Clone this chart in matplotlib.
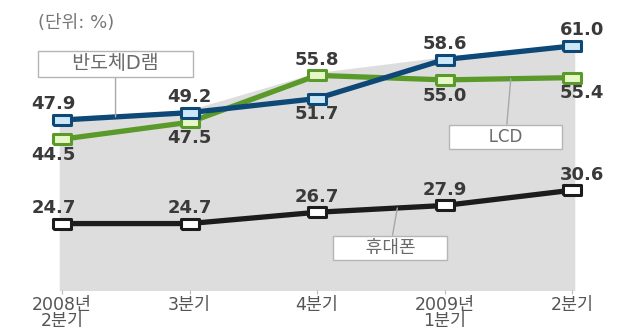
import numpy as np
import matplotlib.pyplot as plt

# 점유율 데이터 (단위: %)
quarters = ["2008년\n2분기", "3분기", "4분기", "2009년\n1분기", "2분기"]
dram = [47.9, 49.2, 51.7, 58.6, 61.0]
lcd = [44.5, 47.5, 55.8, 55.0, 55.4]
phone = [24.7, 24.7, 26.7, 27.9, 30.6]

plt.rcParams['font.family'] = ['DejaVu Sans', 'Noto Sans CJK KR']

x = np.arange(len(quarters))


# the original squeezes the empty band between ~32 and ~42
def fwd(v):
    v = np.asarray(v, dtype=float)
    return np.where(v >= 42, v, np.where(v >= 32, 42 - (42 - v) * 0.513, v + 4.87))


def inv(t):
    t = np.asarray(t, dtype=float)
    return np.where(t >= 42, t, np.where(t >= 36.87, 42 - (42 - t) / 0.513, t - 4.87))


W, H = 619, 331
fig = plt.figure(figsize=(W / 100, H / 100), dpi=100)
ax = fig.add_axes([23.75 / W, 41 / H, 586.5 / W, 290 / H])
ax.set_xlim(-0.3, 4.3)
ax.set_yscale('function', functions=(fwd, inv))
ax.set_ylim(12.94, 69.14)

# gray area under the upper curves
ybot = ax.get_ylim()[0]
ax.fill_between(x, np.maximum(dram, lcd), ybot, color='#dddddd',
                edgecolor='#dddddd', lw=4, zorder=0)

# rectangular (wide) marker
rect = [(-1.8, -1), (1.8, -1), (1.8, 1), (-1.8, 1), (-1.8, -1)]

styles = [
    (phone, '#1c1c1c', '#ffffff', ['up'] * 5),
    (lcd, '#5a9a2b', '#e8f7c8', ['down', 'down', 'up', 'down', 'down']),
    (dram, '#0e4877', '#cce8f8', ['up', 'up', 'down', 'up', 'up']),
]
for i, (vals, col, face, place) in enumerate(styles):
    ax.plot(x, vals, color=col, lw=3.8, marker=rect, ms=13.5, mfc=face,
            mec=col, mew=2.2, zorder=3 + i, solid_capstyle='butt')
    for j, (xi, v) in enumerate(zip(x, vals)):
        dy = 11.3 if place[j] == 'up' else -11.3
        dx = -6 if j == 0 else (7 if j == len(x) - 1 else 0)
        ax.annotate(f"{v:.1f}", (xi, v), xytext=(dx, dy), textcoords='offset points',
                    ha='center', va='center', fontsize=13, fontweight='bold',
                    color='#3a3a3a', zorder=10)


def callout(text, xpos, vals, dx, dy, size):
    ax.annotate(text, xy=(xpos, np.interp(xpos, x, vals)), xytext=(dx, dy),
                textcoords='offset pixels', ha='center', va='center',
                fontsize=size, color='#6a6a6a', zorder=8,
                bbox=dict(boxstyle='square,pad=0.18', fc='white', ec='#b5b5b5', lw=1),
                arrowprops=dict(arrowstyle='-', color='#a8a8a8', lw=1,
                                shrinkA=0, shrinkB=0))


callout("     반도체D램     ", 0.42, dram, 0, 53, 14)
callout("       LCD       ", 3.52, lcd, -5, -58, 12)
callout("     휴대폰     ", 2.63, phone, -7, -40, 13)

fig.text(38 / W, 1 - 23 / H, "(단위: %)", ha='left', va='center',
         fontsize=13, color='#777777')

ax.set_xticks(x, quarters)
ax.tick_params(axis='x', length=3, color='#bbbbbb', pad=1.5,
               labelsize=12.5, labelcolor='#555555')
for lab in ax.get_xticklabels():
    lab.set_linespacing(0.82)
ax.set_yticks([])
for s in ax.spines.values():
    s.set_visible(False)

fig.savefig("out.png", dpi=100)
